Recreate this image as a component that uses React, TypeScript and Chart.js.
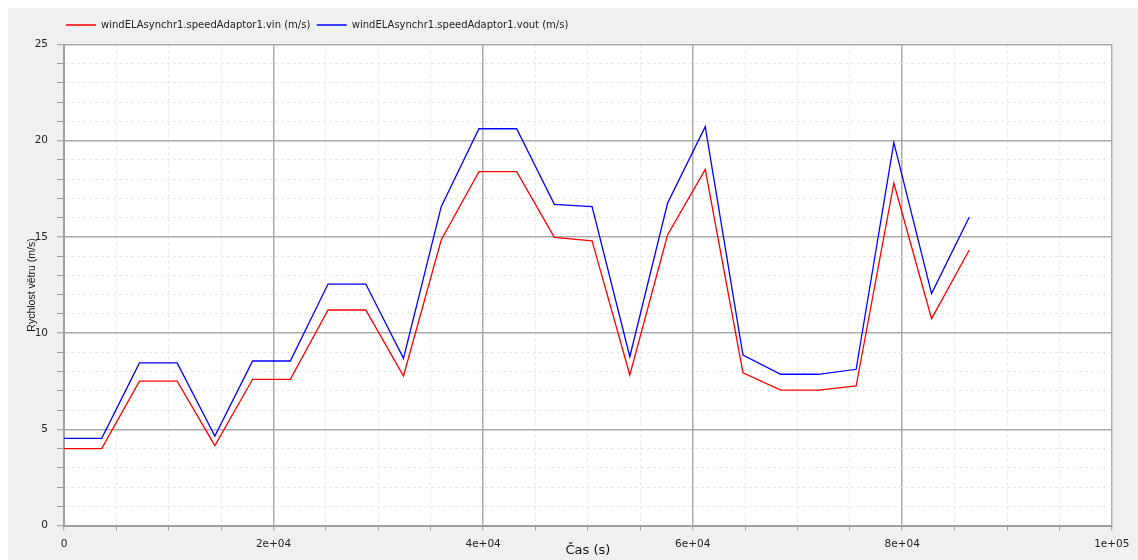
import React, { useEffect, useRef } from "react";
import { Chart, registerables } from "chart.js";

Chart.register(...registerables);

// ---- data ----
const timeS = [
  0, 3600, 7200, 10800, 14400, 18000, 21600, 25200, 28800, 32400, 36000, 39600, 43200,
  46800, 50400, 54000, 57600, 61200, 64800, 68400, 72000, 75600, 79200, 82800, 86400,
];
const vinValues = [
  4.0, 4.0, 7.5, 7.5, 4.15, 7.6, 7.6, 11.2, 11.2, 7.77, 14.84, 18.39, 18.39,
  14.98, 14.8, 7.82, 15.1, 18.51, 7.94, 7.04, 7.04, 7.25, 17.79, 10.75, 14.32,
];
const voutValues = [
  4.53, 4.53, 8.45, 8.45, 4.65, 8.55, 8.55, 12.55, 12.55, 8.69, 16.57, 20.62, 20.62,
  16.69, 16.57, 8.77, 16.75, 20.73, 8.86, 7.86, 7.86, 8.12, 19.9, 12.05, 16.03,
];
const seriesLabels = [
  "windELAsynchr1.speedAdaptor1.vin (m/s)",
  "windELAsynchr1.speedAdaptor1.vout (m/s)",
];
const seriesColors = ["#ff0000", "#0000ff"];
const xTitle = "Čas (s)";
const yTitle = "Rychlost větru (m/s)";
const xMajorTicks = [0, 20000, 40000, 60000, 80000, 100000];
const xTickLabels = ["0", "2e+04", "4e+04", "6e+04", "8e+04", "1e+05"];
const yMajorTicks = [0, 5, 10, 15, 20, 25];
const yTickLabels = ["0", "5", "10", "15", "20", "25"];

const W = 1130;
const H = 552;

export default function App() {
  const ref = useRef<HTMLCanvasElement | null>(null);

  useEffect(() => {
    if (!ref.current) return;
    Chart.defaults.font.family = "'DejaVu Sans', sans-serif";

    const bgPlugin = {
      id: "bgPlugin",
      beforeDraw(chart: any) {
        const { ctx, chartArea } = chart;
        ctx.save();
        ctx.fillStyle = "#f0f0f0";
        ctx.fillRect(0, 0, chart.width, chart.height);
        ctx.fillStyle = "#ffffff";
        ctx.fillRect(
          chartArea.left,
          chartArea.top,
          chartArea.right - chartArea.left,
          chartArea.bottom - chartArea.top
        );
        ctx.restore();
      },
    };

    const legendPad = 6.5;
    const legendShift = {
      id: "legendShift",
      afterLayout(chart: any) {
        const lg = chart.legend;
        if (!lg) return;
        const w = lg.right - lg.left;
        lg.left = 58 - legendPad;
        lg.right = lg.left + w;
        lg.top = 17 - 5 - legendPad;
      },
    };

    const xMajor = (v: number) => xMajorTicks.indexOf(v) >= 0;
    const yMajor = (v: number) => yMajorTicks.indexOf(v) >= 0;

    const chart = new Chart(ref.current, {
      type: "line",
      data: {
        datasets: [vinValues, voutValues].map((vals, i) => ({
          label: seriesLabels[i],
          data: timeS.map((t, k) => ({ x: t, y: vals[k] })),
          borderColor: seriesColors[i],
          backgroundColor: seriesColors[i],
          borderWidth: 1.3,
          pointRadius: 0,
          tension: 0,
          fill: false,
        })),
      },
      options: {
        responsive: false,
        animation: false,
        layout: { padding: { top: 10, left: 0, right: 26.2, bottom: 0 } },
        plugins: {
          tooltip: { enabled: false },
          legend: {
            position: "top",
            align: "start",
            labels: {
              usePointStyle: true,
              pointStyle: "line",
              pointStyleWidth: 30,
              padding: legendPad,
              color: "#222",
              font: { size: 10, family: "'DejaVu Sans', sans-serif" },
            },
          },
        },
        scales: {
          x: {
            type: "linear",
            min: 0,
            max: 100000,
            afterFit: (s: any) => {
              s.height = 34.5;
            },
            ticks: {
              stepSize: 5000,
              autoSkip: false,
              maxRotation: 0,
              padding: 7,
              color: "#222",
              font: { size: 10.5 },
              callback: (v: any) => {
                const i = xMajorTicks.indexOf(Number(v));
                return i >= 0 ? xTickLabels[i] : "";
              },
            },
            grid: {
              color: (c: any) => (xMajor(c.tick?.value) ? "#ababab" : "#e6e6e6"),
              lineWidth: (c: any) => (xMajor(c.tick?.value) ? 1.5 : 1),
              tickColor: "#9a9a9a",
              tickLength: 5,
              tickWidth: 1,
              tickBorderDash: [],
            },
            border: {
              color: "#a0a0a0",
              width: 2,
              dash: (c: any) => (xMajor(c.tick?.value) ? [] : [3, 3]),
            },
            title: {
              display: true,
              text: xTitle,
              color: "#111",
              font: { size: 13 },
              padding: { top: 0, bottom: 2 },
            },
          },
          y: {
            type: "linear",
            min: 0,
            max: 25,
            afterFit: (s: any) => {
              s.width = 56;
            },
            ticks: {
              stepSize: 1,
              autoSkip: false,
              padding: 9,
              color: "#222",
              font: { size: 10.5 },
              callback: (v: any) => {
                const i = yMajorTicks.indexOf(Number(v));
                return i >= 0 ? yTickLabels[i] : "";
              },
            },
            grid: {
              color: (c: any) => (yMajor(c.tick?.value) ? "#ababab" : "#e6e6e6"),
              lineWidth: (c: any) => (yMajor(c.tick?.value) ? 1.5 : 1),
              tickColor: "#9a9a9a",
              tickLength: 7,
              tickWidth: 1,
              tickBorderDash: [],
            },
            border: {
              color: "#a0a0a0",
              width: 2,
              dash: (c: any) => (yMajor(c.tick?.value) ? [] : [3, 3]),
            },
            title: {
              display: true,
              text: yTitle,
              color: "#111",
              font: { size: 10.5, family: "'Liberation Sans', sans-serif" },
              padding: { top: 18, bottom: 0 },
            },
          },
        },
      },
      plugins: [bgPlugin, legendShift],
    } as any);

    return () => chart.destroy();
  }, []);

  return (
    <div style={{ position: "absolute", left: 8, top: 8, width: W, height: H, background: "#f0f0f0" }}>
      <canvas ref={ref} width={W} height={H} style={{ display: "block" }} />
    </div>
  );
}
